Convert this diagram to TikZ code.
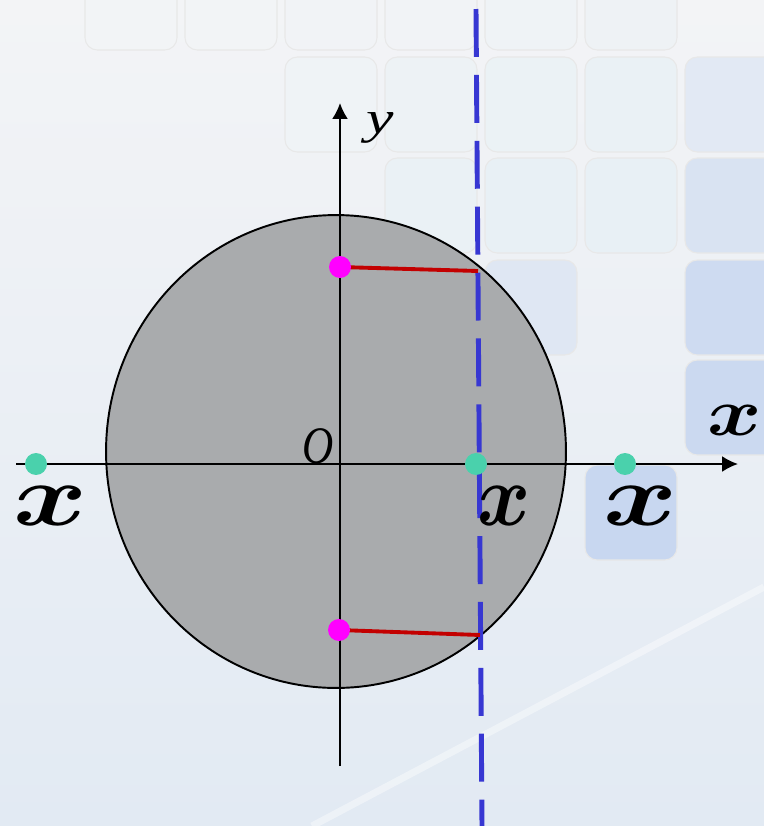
\documentclass[tikz,border=0pt]{standalone}
\usepackage{graphicx,xcolor,amsmath}
\usepackage{fontspec}
\setmainfont{Liberation Serif}
\usetikzlibrary{arrows.meta,positioning,calc}
\definecolor{bgtop}{RGB}{243,244,246}
\definecolor{bgbottom}{RGB}{226,234,243}
\definecolor{tilecyan}{RGB}{212,234,242}
\definecolor{tileblue}{RGB}{186,206,238}
\definecolor{discgray}{RGB}{169,171,173}
\definecolor{cutblue}{RGB}{55,55,210}
\definecolor{chordred}{RGB}{195,0,0}
\definecolor{dotmagenta}{RGB}{255,0,255}
\definecolor{dotteal}{RGB}{74,209,172}
\newcommand{\bx}[2]{\scalebox{#1}[#2]{$\boldsymbol{x}$}}
\tikzset{
  tile/.style={rounded corners=7pt,draw=gray!18,line width=0.6pt},
  axisline/.style={line width=1.15pt,-{Latex[length=9pt,width=9pt]}},
  cutline/.style={color=cutblue,line width=2.8pt,
    dash pattern=on 27.3pt off 10.2pt},
  chord/.style={color=chordred,line width=2.2pt},
  mdot/.style={circle,fill=dotmagenta,minimum size=12.5pt,inner sep=0pt},
  tdot/.style={circle,fill=dotteal,minimum size=12.5pt,inner sep=0pt},
  bigx/.style={font=\normalsize,inner sep=0pt},
  axislabel/.style={font=\fontsize{26pt}{26pt}\selectfont\itshape,
    inner sep=0pt},
}
\begin{document}
\begin{tikzpicture}[x=0.02cm,y=-0.02cm]
% backdrop with tiles
\shade[top color=bgtop,bottom color=bgbottom] (0,0) rectangle (764,826);
\useasboundingbox (0,0) rectangle (764,826);
\begin{scope}
\clip (0,0) rectangle (764,826);
\foreach \tx/\ty/\tp in {85/-45/3,185/-45/4,285/-45/5,385/-45/8,485/-45/12,
    585/-45/15,285/57/12,385/57/18,485/57/25,585/57/30,385/158/30,
    485/158/35,585/158/35}
  \draw[tile,fill=tilecyan!\tp!bgtop] (\tx,\ty) rectangle ++(92,95);
\foreach \tx/\ty/\tp in {685/57/30,685/158/45,485/260/35,685/260/65,
    685/360/70,585/465/75}
  \draw[tile,fill=tileblue!\tp!bgtop] (\tx,\ty) rectangle ++(92,95);
\draw[white,opacity=0.4,line width=4pt] (312,826) -- (764,587);
\end{scope}

% disc
\draw[fill=discgray,line width=1.1pt] (336,451.5)
  ellipse [x radius=4.6cm,y radius=4.73cm];

% axes
\coordinate (xstart) at (16,464);
\coordinate (xend) at (738,464);
\coordinate (ystart) at (340,766);
\coordinate (yend) at (340,103);
\draw[axisline] (xstart) -- (xend);
\draw[axisline] (ystart) -- (yend);

% vertical cut and the two chords
\coordinate (cuttop) at (476,9);
\coordinate (cutbot) at (482,826);
\coordinate (mtop) at (340,267);
\coordinate (mbot) at (339,630);
\coordinate (ctop) at (478,271);
\coordinate (cbot) at (480,635);
\draw[cutline] (cuttop) -- (cutbot);
\draw[chord] (mtop) -- (ctop);
\draw[chord] (mbot) -- (cbot);

\node[mdot] (ptop) at (mtop) {};
\node[mdot] (pbot) at (mbot) {};
\node[tdot] (pleft) at (36,464) {};
\node[tdot] (pmid) at (476,464) {};
\node[tdot] (pright) at (625,464) {};

% labels
\node[axislabel] (ylab) at (380,128) {\scalebox{1.35}[1]{y}};
\node[bigx] (xlab) at (735,420) {\bx{4.7}{3.85}};
\node[axislabel,font=\fontsize{30pt}{30pt}\selectfont\itshape]
  (olab) at (318,446) {\scalebox{0.82}[1]{O}};
\node[bigx] (xleft) at (51,506) {\bx{6.4}{5}};
\node[bigx] (xmid) at (504,506) {\bx{4.6}{5}};
\node[bigx] (xright) at (641,506) {\bx{6.4}{5}};
\end{tikzpicture}
\end{document}
